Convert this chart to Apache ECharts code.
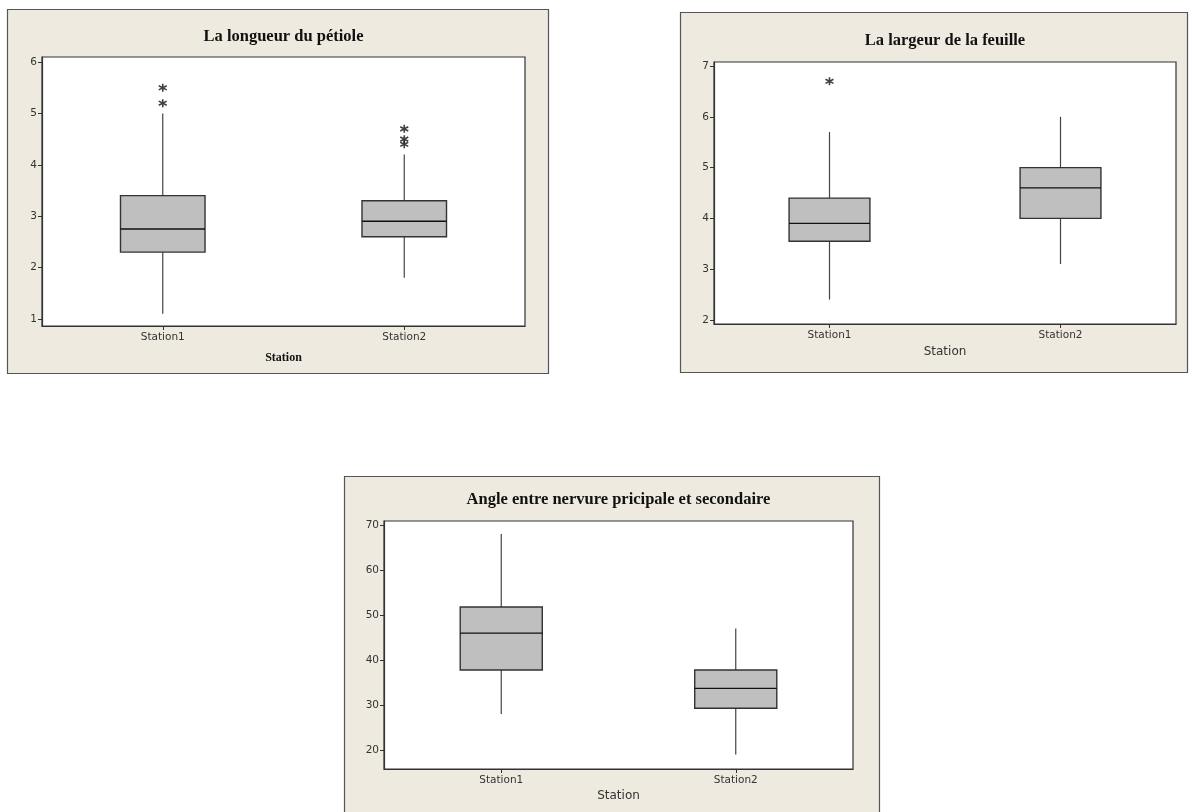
<!DOCTYPE html>
<html><head><meta charset="utf-8">
<script src="https://cdn.jsdelivr.net/npm/echarts@6/dist/echarts.min.js"></script>
<style>html,body{margin:0;padding:0;background:#fff}#c{width:1192px;height:812px}</style>
</head><body><div id="c"></div>
<script>
// ---- data ----
const categories = ['Station1', 'Station2'];
// [lower whisker, Q1, median, Q3, upper whisker]
const petioleBox = [[1.1, 2.3, 2.75, 3.4, 5.0], [1.8, 2.6, 2.9, 3.3, 4.2]];
const petioleOutliers = [['Station1', 5.2], ['Station1', 5.5], ['Station2', 4.4], ['Station2', 4.5], ['Station2', 4.7]];
const largeurBox = [[2.4, 3.55, 3.9, 4.4, 5.7], [3.1, 4.0, 4.6, 5.0, 6.0]];
const largeurOutliers = [['Station1', 6.7]];
const angleBox = [[28, 37.8, 46, 51.8, 68], [19, 29.3, 33.7, 37.8, 47]];
const angleOutliers = [];
const titles = ['La longueur du pétiole', 'La largeur de la feuille', 'Angle entre nervure pricipale et secondaire'];
const xName = 'Station';
const yTicks1 = [1, 2, 3, 4, 5, 6];
const yTicks2 = [2, 3, 4, 5, 6, 7];
const yTicks3 = [20, 30, 40, 50, 60, 70];

// ---- layout ----
const BG = '#EEEAE0';
const frames = [
  {x: 7.5, y: 9.5, w: 541, h: 364},
  {x: 680.5, y: 12.5, w: 507, h: 360},
  {x: 344.5, y: 476.5, w: 535, h: 360}
];
const grids = [
  {left: 42, top: 57, width: 483, height: 269},
  {left: 714, top: 62, width: 462, height: 262},
  {left: 384, top: 521, width: 469, height: 248}
];
const yRanges = [[0.86, 6.1], [1.92, 7.08], [15.8, 70.9]];
const yTickSets = [yTicks1, yTicks2, yTicks3];
const boxes = [petioleBox, largeurBox, angleBox];
const outs = [petioleOutliers, largeurOutliers, angleOutliers];
const titleY = [37, 41, 500];
const xNameY = [358, 352, 796];
const xNameBold = [true, false, false];

const star = 'path://M0,-5L0,5M-4.4,-2.6L4.4,2.6M-4.4,2.6L4.4,-2.6';

const chart = echarts.init(document.getElementById('c'), null, {renderer: 'canvas'});
const graphic = [];
frames.forEach((f, i) => {
  graphic.push({type: 'rect', z: -10, silent: true,
    shape: {x: f.x, y: f.y, width: f.w, height: f.h},
    style: {fill: BG, stroke: '#555', lineWidth: 1.2}});
  const cx = grids[i].left + grids[i].width / 2;
  graphic.push({type: 'text', z: 10, silent: true, x: cx, y: titleY[i],
    style: {text: titles[i], fill: '#111', font: 'bold 16.5px "Liberation Serif", "Times New Roman", serif',
      textAlign: 'center', textVerticalAlign: 'middle'}});
  graphic.push({type: 'text', z: 10, silent: true, x: cx, y: xNameY[i],
    style: {text: xName, fill: xNameBold[i] ? '#111' : '#333',
      font: xNameBold[i] ? 'bold 12px "Liberation Serif", serif' : '12px "DejaVu Sans", sans-serif',
      textAlign: 'center', textVerticalAlign: 'middle'}});
});

function renderBox(params, api) {
  const c = api.value(0);
  const vals = [api.value(1), api.value(2), api.value(3), api.value(4), api.value(5)];
  const pts = vals.map(v => api.coord([c, v]));
  const x = pts[0][0];
  const bw = api.size([1, 0])[0] * 0.35;
  const x0 = x - bw / 2;
  return {
    type: 'group',
    children: [
      {type: 'line', shape: {x1: x, y1: pts[0][1], x2: x, y2: pts[1][1]}, style: {stroke: '#444', lineWidth: 1.2}},
      {type: 'line', shape: {x1: x, y1: pts[3][1], x2: x, y2: pts[4][1]}, style: {stroke: '#444', lineWidth: 1.2}},
      {type: 'rect', shape: {x: x0, y: pts[3][1], width: bw, height: pts[1][1] - pts[3][1]},
        style: {fill: '#BFBFBF', stroke: '#333', lineWidth: 1.4}},
      {type: 'line', shape: {x1: x0, y1: pts[2][1], x2: x0 + bw, y2: pts[2][1]}, style: {stroke: '#111', lineWidth: 1.3}}
    ]
  };
}

const option = {
  animation: false,
  backgroundColor: '#fff',
  graphic: graphic,
  grid: grids.map(g => Object.assign({show: true, backgroundColor: '#fff', borderColor: '#333', borderWidth: 1.2, containLabel: false}, g)),
  xAxis: grids.map((g, i) => ({
    type: 'category', gridIndex: i, data: categories, boundaryGap: true,
    axisLine: {show: true, lineStyle: {color: '#333', width: 1.2}},
    axisTick: {show: true, alignWithLabel: true, length: 4, lineStyle: {color: '#333'}},
    axisLabel: {color: '#333', fontSize: 10.5, fontFamily: 'DejaVu Sans', margin: 6},
    splitLine: {show: false}
  })),
  yAxis: grids.map((g, i) => ({
    type: 'value', gridIndex: i, min: yRanges[i][0], max: yRanges[i][1],
    axisLine: {show: true, lineStyle: {color: '#333', width: 1.2}},
    axisTick: {show: true, length: 4, lineStyle: {color: '#333'},
      customValues: yTickSets[i]},
    axisLabel: {color: '#333', fontSize: 10.5, fontFamily: 'DejaVu Sans', margin: 5,
      customValues: yTickSets[i], showMinLabel: true, showMaxLabel: true},
    splitLine: {show: false}
  })),
  series: []
};
boxes.forEach((b, i) => {
  option.series.push({
    type: 'custom', xAxisIndex: i, yAxisIndex: i,
    data: b.map((row, k) => [k].concat(row)),
    encode: {x: 0, y: [1, 2, 3, 4, 5]},
    renderItem: renderBox,
    silent: true
  });
  if (outs[i].length) {
    option.series.push({
      type: 'scatter', xAxisIndex: i, yAxisIndex: i, data: outs[i],
      symbol: star, symbolSize: 8,
      itemStyle: {color: 'none', borderColor: '#111', borderWidth: 1.6},
      silent: true
    });
  }
});
chart.setOption(option);
</script>
</body></html>
